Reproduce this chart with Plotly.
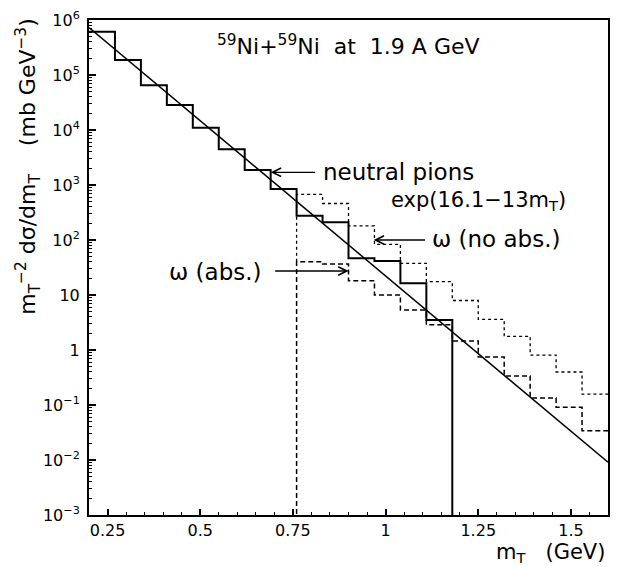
import math
import plotly.graph_objects as go

# ---- data ----
bin_edges = [0.20, 0.27, 0.34, 0.41, 0.48, 0.55, 0.62, 0.69, 0.76, 0.83, 0.90,
             0.97, 1.04, 1.11, 1.18, 1.25, 1.32, 1.39, 1.46, 1.53, 1.60]

# neutral pions (solid histogram), bins 0.20 .. 1.18
pion_values = [6.1e5, 1.87e5, 6.5e4, 2.85e4, 1.1e4, 4.46e3, 1.87e3, 845,
               277, 210, 46.5, 41.5, 16.3, 3.5]

# omega without absorption (dotted), bins 0.76 .. 1.60
omega_noabs_values = [678, 461, 180, 83.5, 37.7, 17.5, 7.95, 3.61, 1.77, 0.81,
                      0.398, 0.158]

# omega with absorption (dashed), bins 0.76 .. 1.60
omega_abs_values = [40.3, 36.6, 18.2, 10.0, 5.34, 2.88, 1.46, 0.746, 0.337,
                    0.134, 0.0908, 0.0341]

# exponential fit line endpoints exp(16.1 - 13 mT)
fit_x = [0.2, 1.6]
fit_y = [7.3e5, 9.1e-3]

x_tickvals = [0.25, 0.5, 0.75, 1.0, 1.25, 1.5]
x_ticktext = ["0.25", "0.5", "0.75", "1", "1.25", "1.5"]
y_tickvals = [1e-3, 1e-2, 1e-1, 1, 10, 1e2, 1e3, 1e4, 1e5, 1e6]
y_ticktext = ["10<sup>−3</sup>", "10<sup>−2</sup>", "10<sup>−1</sup>", "1", "10",
              "10<sup>2</sup>", "10<sup>3</sup>", "10<sup>4</sup>", "10<sup>5</sup>",
              "10<sup>6</sup>"]

FLOOR = 1e-4  # below axis bottom, for vertical drop lines

FONT = "DejaVu Sans"

fig = go.Figure()

# pion histogram
px_ = bin_edges[:len(pion_values)] + [bin_edges[len(pion_values)]]
py_ = pion_values + [FLOOR]
fig.add_trace(go.Scatter(x=px_, y=py_, mode="lines", line_shape="hv",
                         line=dict(color="black", width=2), showlegend=False))

start = 8  # index of 0.76
ox = [bin_edges[start]] + bin_edges[start:start + len(omega_noabs_values)] + [bin_edges[-1]]
oy_noabs = [omega_abs_values[0]] + omega_noabs_values + [omega_noabs_values[-1]]
oy_abs = [FLOOR] + omega_abs_values + [omega_abs_values[-1]]

fig.add_trace(go.Scatter(x=ox, y=oy_noabs, mode="lines", line_shape="hv",
                         line=dict(color="black", width=1.3, dash="dot"), showlegend=False))
fig.add_trace(go.Scatter(x=ox, y=oy_abs, mode="lines", line_shape="hv",
                         line=dict(color="black", width=1.5, dash="5px,3px"), showlegend=False))

fig.add_trace(go.Scatter(x=fit_x, y=fit_y, mode="lines",
                         line=dict(color="black", width=1.5), showlegend=False))

minor_y = [m * 10 ** e for e in range(-3, 6) for m in range(2, 10)]

fig.update_layout(
    width=618, height=567,
    margin=dict(l=89, r=8, t=20, b=52),
    paper_bgcolor="white", plot_bgcolor="white",
    font=dict(family=FONT, color="black", size=16),
    xaxis=dict(range=[0.2, 1.6], tickvals=x_tickvals, ticktext=x_ticktext,
               ticks="inside", ticklen=6, tickwidth=1.5, tickcolor="black",
               showline=True, linecolor="black", linewidth=2, mirror=True,
               showgrid=False, zeroline=False,
               tickfont=dict(size=16, family=FONT),
               minor=dict(dtick=0.05, tick0=0.2, ticks="inside", ticklen=3,
                          tickcolor="black", tickwidth=1.2, showgrid=False)),
    yaxis=dict(type="log", range=[-3, 6], tickvals=y_tickvals, ticktext=y_ticktext,
               ticks="inside", ticklen=7, tickwidth=1.5, tickcolor="black",
               showline=True, linecolor="black", linewidth=2, mirror=True,
               showgrid=False, zeroline=False, ticklabelstandoff=4,
               tickfont=dict(size=16, family=FONT),
               minor=dict(tickvals=minor_y, ticks="inside", ticklen=3,
                          tickcolor="black", tickwidth=1.2, showgrid=False)),
)

anns = [
    dict(x=0.9005, y=5.545, text="<sup>59</sup>Ni+<sup>59</sup>Ni  at  1.9 A GeV",
         showarrow=False, font=dict(size=22), xanchor="center", yanchor="middle"),
    dict(x=0.8245, y=3.236, text="neutral pions", showarrow=False,
         font=dict(size=23), xanchor="left", yanchor="middle"),
    dict(x=1.2502, y=2.709, text="exp(16.1−13m<sub>T</sub>)", showarrow=False,
         font=dict(size=21), xanchor="center", yanchor="middle"),
    dict(x=1.120, y=2.018, text="ω (no abs.)", showarrow=False,
         font=dict(size=23), xanchor="left", yanchor="middle"),
    dict(x=0.6715, y=1.424, text="ω (abs.)", showarrow=False,
         font=dict(size=23), xanchor="right", yanchor="middle"),
    # arrows
    dict(x=0.690, y=3.231, text="", showarrow=True, ax=46, ay=0,
         arrowhead=5, arrowsize=1.3, arrowwidth=1.3, arrowcolor="black"),
    dict(x=0.9677, y=2.0, text="", showarrow=True, ax=53, ay=0,
         arrowhead=5, arrowsize=1.3, arrowwidth=1.3, arrowcolor="black"),
    dict(x=0.9005, y=1.4364, text="", showarrow=True, ax=-75, ay=0,
         arrowhead=5, arrowsize=1.3, arrowwidth=1.3, arrowcolor="black"),
    # axis titles
    dict(xref="paper", yref="paper", x=0.998, y=-0.077,
         text="m<sub>T</sub>   (GeV)", showarrow=False, font=dict(size=21),
         xanchor="right", yanchor="middle"),
    dict(xref="paper", yref="paper", x=-0.118, y=0.705, textangle=-90,
         text="m<sub>T</sub><sup>−2</sup> dσ/dm<sub>T</sub>    (mb GeV<sup>−3</sup>)",
         showarrow=False, font=dict(size=22), xanchor="center", yanchor="middle"),
]
fig.update_layout(annotations=anns)

fig.write_html("out.html")
